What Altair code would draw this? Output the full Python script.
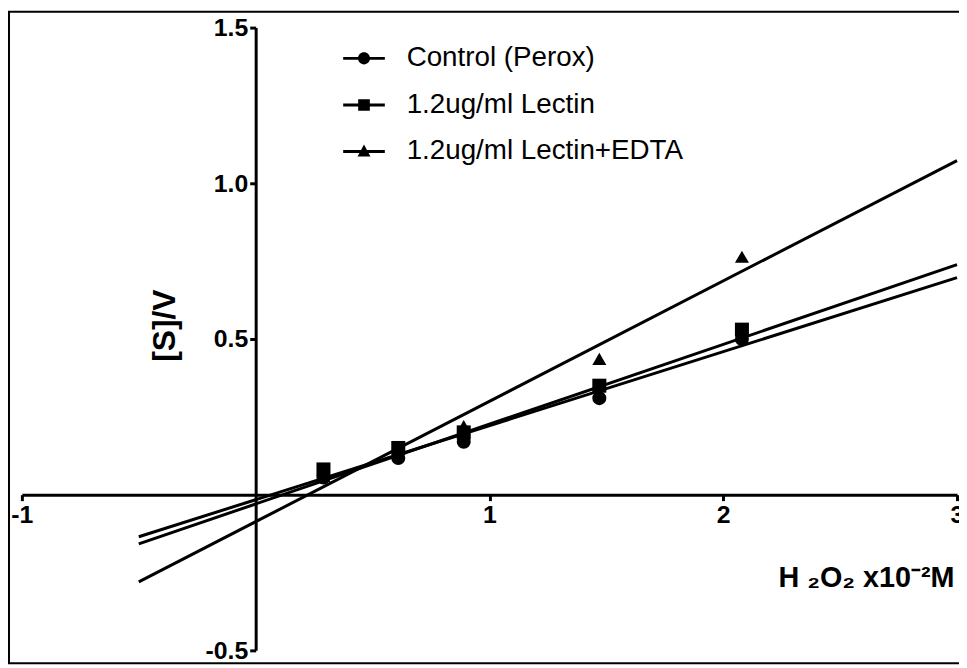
import altair as alt
import pandas as pd

# ---- data ----
series = ["Control (Perox)", "1.2ug/ml Lectin", "1.2ug/ml Lectin+EDTA"]
conc = [0.29, 0.61, 0.89, 1.47, 2.08]
control = [0.055, 0.118, 0.170, 0.310, 0.500]
lectin = [0.081, 0.150, 0.200, 0.350, 0.530]
edta = [0.060, 0.135, 0.220, 0.436, 0.764]

fit_x = [-0.5, 3.0]
fit_control = [-0.135, 0.697]
fit_lectin = [-0.158, 0.739]
fit_edta = [-0.280, 1.073]

x_ticks = [-1, 1, 2, 3]
y_ticks = [-0.5, 0.5, 1.0, 1.5]

rows = []
for name, vals in zip(series, [control, lectin, edta]):
    for xv, yv in zip(conc, vals):
        rows.append({"series": name, "x": xv, "y": yv})
pts = pd.DataFrame(rows)

frows = []
for name, vals in zip(series, [fit_control, fit_lectin, fit_edta]):
    for xv, yv in zip(fit_x, vals):
        frows.append({"series": name, "x": xv, "y": yv})
fits = pd.DataFrame(frows)

FONT = "Liberation Sans"

xscale = alt.Scale(domain=[-1, 3], nice=False, zero=False)
yscale = alt.Scale(domain=[-0.5, 1.5], nice=False, zero=False)

xaxis = alt.Axis(
    values=x_ticks, offset=-157, grid=False,
    labelExpr="datum.value < 0 ? '-' + format(-datum.value, 'd') : format(datum.value, 'd')",
    domainColor="black", domainWidth=3, tickColor="black", tickWidth=3, tickSize=6,
    labelFont=FONT, labelFontWeight="bold", labelFontSize=25, labelColor="black",
    labelPadding=2, labelFlush=False, labelOverlap=False,
    title="H ₂O₂ x10⁻²M", titleFont=FONT, titleFontWeight="bold", titleFontSize=29,
    titleColor="black", titleAlign="right", titleAnchor="end", titleBaseline="alphabetic",
    titleX=940, titleY=93,
)
yaxis = alt.Axis(
    values=y_ticks, offset=-235.75, grid=False,
    labelExpr="datum.value < 0 ? '-' + format(-datum.value, '.1f') : format(datum.value, '.1f')",
    domainColor="black", domainWidth=3, tickColor="black", tickWidth=3, tickSize=6,
    labelFont=FONT, labelFontWeight="bold", labelFontSize=25, labelColor="black",
    labelPadding=2, labelFlush=False, labelOverlap=False,
    title="[S]/V", titleFont=FONT, titleFontWeight="bold", titleFontSize=32,
    titleColor="black", titleAngle=270, titleAlign="center", titleBaseline="middle",
    titleX=-92, titleY=300,
)

shapes = ["circle", "square", "triangle-up"]
legend_paths = [
    "M-1,-0.07H1V0.07H-1ZM-0.29,0A0.29,0.29,0,1,1,0.29,0A0.29,0.29,0,1,1,-0.29,0Z",
    "M-1,-0.07H1V0.07H-1ZM-0.28,-0.28H0.28V0.28H-0.28Z",
    "M-1,-0.07H1V0.07H-1ZM0,-0.34L0.31,0.24H-0.31Z",
]

lines = alt.Chart(fits).mark_line(color="black", strokeWidth=3).encode(
    x=alt.X("x:Q", scale=xscale, axis=xaxis),
    y=alt.Y("y:Q", scale=yscale, axis=yaxis),
    detail="series:N",
)

points = alt.Chart(pts).mark_point(filled=True, color="black", opacity=1, size=200).encode(
    x=alt.X("x:Q", scale=xscale),
    y=alt.Y("y:Q", scale=yscale),
    shape=alt.Shape("series:N", scale=alt.Scale(domain=series, range=shapes), legend=None),
)

legend_layer = alt.Chart(pts).transform_filter("datum.x > 99").mark_point(
    filled=True, color="black"
).encode(
    x=alt.X("x:Q", scale=xscale),
    y=alt.Y("y:Q", scale=yscale),
    shape=alt.Shape(
        "series:N",
        scale=alt.Scale(domain=series, range=legend_paths),
        legend=alt.Legend(
            orient="none", legendX=323, legendY=9, title=None, padding=0,
            symbolSize=1764, symbolFillColor="black", symbolOpacity=1,
            labelFont=FONT, labelFontSize=28, labelColor="black", labelOffset=21,
            labelLimit=0, rowPadding=11,
        ),
    ),
)

one = pd.DataFrame({"k": [0]})
frame_left = alt.Chart(one).mark_rule(color="black", strokeWidth=2).encode(
    x=alt.value(-13), y=alt.value(-16), y2=alt.value(641)
)
frame_top = alt.Chart(one).mark_rule(color="black", strokeWidth=2).encode(
    x=alt.value(-14), x2=alt.value(950), y=alt.value(-16)
)
frame_bottom = alt.Chart(one).mark_rule(color="black", strokeWidth=2).encode(
    x=alt.value(-14), x2=alt.value(950), y=alt.value(641)
)

chart = alt.layer(
    frame_left, frame_top, frame_bottom, lines, points, legend_layer
).resolve_scale(shape="independent").properties(
    width=943, height=628,
    autosize=alt.AutoSizeParams(type="none"),
    padding={"left": 14, "top": 17, "right": 2, "bottom": 14},
    background="white",
).configure_view(stroke=None)

chart.save("out.html", embed_options={"renderer": "svg", "actions": False})
